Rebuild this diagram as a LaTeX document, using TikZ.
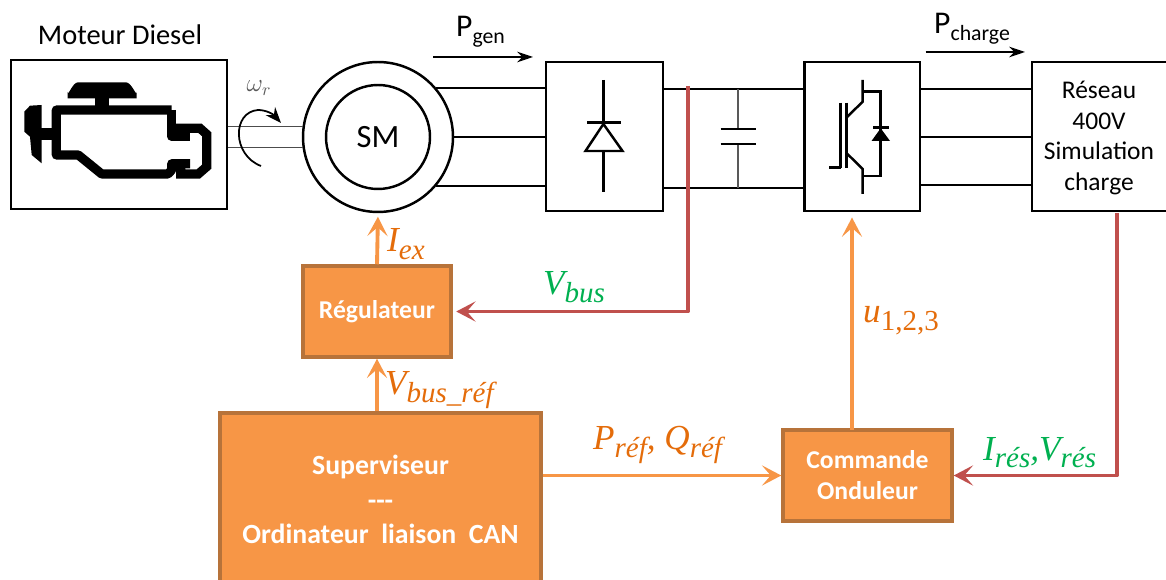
\documentclass[tikz,border=0pt]{standalone}
\usepackage{amsmath}
\usepackage{fontspec}
\setmainfont{Carlito}
\newfontfamily\labelfont{Liberation Serif}
\usetikzlibrary{arrows.meta,calc,shapes.geometric}
\definecolor{superorange}{RGB}{247,150,70}
\definecolor{superborder}{RGB}{183,115,58}
\definecolor{labelorange}{RGB}{228,108,10}
\definecolor{measurered}{RGB}{192,80,77}
\definecolor{measuregreen}{RGB}{0,176,80}
\newcommand{\powerlabel}[1]{P\raisebox{-.4ex}{\fontsize{12.4}{13}\selectfont #1}}
\newcommand{\sublabel}[2]{#1\raisebox{-.2em}{\fontsize{16.5}{18}\selectfont #2}}
\tikzset{
 powerbox/.style={draw=black,line width=1.4pt,fill=white,minimum height=2.98cm},
 ctrlbox/.style={draw=superborder,line width=2pt,fill=superorange,text=white,align=center,font=\fontsize{14.6}{17.6}\selectfont\bfseries},
 busline/.style={black,line width=1.6pt},
 symbline/.style={black,line width=1.4pt},
 ctrlarrow/.style={-{Stealth[length=11pt,width=11.5pt,inset=5pt]},superorange,line width=2.2pt},
 measarrow/.style={-{Stealth[length=11pt,width=11.5pt,inset=5pt]},measurered,line width=2.2pt,line join=round},
 flowarrow/.style={-{Stealth[length=9pt,width=6pt]},black,line width=1pt},
 ctrllabel/.style={font=\labelfont\itshape\fontsize{20}{22}\selectfont,labelorange},
 measlabel/.style={font=\labelfont\itshape\fontsize{20}{22}\selectfont,measuregreen},
}
\begin{document}
\begin{tikzpicture}[x=.02cm,y=-.02cm,line cap=butt]
\useasboundingbox (0,0) rectangle (1166,580);
\clip (0,0) rectangle (1166,580);
\node[font=\fontsize{16.2}{18}\selectfont] (dieseltxt) at (120,35) {Moteur Diesel};
\node[powerbox,minimum width=4.32cm] (engine) at (119,134.5) {};
\fill (67.7,98.3) -- (67.7,92) to[out=-90,in=180] (78,82.3) -- (126,82.3) to[out=0,in=-90] (136.7,92) -- (136.7,98.3) -- cycle;
\fill (95,96) rectangle (109.3,112);
\fill (41.7,105) -- (30,105.7) -- (24.3,111.7) -- (24.3,131.7) -- (30,136.7) -- (31.7,155) -- (41.7,163.3) -- cycle;
\fill (41,127.7) rectangle (56,140);
\draw[line width=5.2pt,line join=round] (171.7,110) -- (56.3,110) -- (56.3,155) -- (78.3,155) -- (101.7,174) -- (168,174) -- (171.7,170) -- (171.7,163.7) -- (190,163.7);
\draw[line width=5.2pt,line join=round] (171.7,110) -- (171.7,136.3) -- (190,136.3);
\draw[line width=5.2pt,line join=miter] (168,128.3) -- (200,128.3) -- (206.7,134.3) -- (206.7,166.7) -- (198.3,174) -- (180.7,174) -- (180.7,163);
\node[circle,draw=black,line width=1.4pt,fill=white,minimum size=3cm] (genouter) at (378,137) {};
\node[circle,draw=black,line width=1.4pt,minimum size=2.08cm,font=\fontsize{18.5}{20}\selectfont] (sm) at (378,137) {SM};
\draw[black!70,line width=1pt] (genouter.172 -| engine.east) -- (genouter.172);
\draw[black!70,line width=1pt] (genouter.188 -| engine.east) -- (genouter.188);
\draw[-{Stealth[length=9pt,width=7pt]},line width=1pt] (261,166) .. controls (232,155) and (232,112) .. (258,110) .. controls (266,110) and (273,114) .. (281,123);
\node[font=\fontsize{14}{15}\selectfont,black!65] (omega) at (259,88) {$\omega_r$};
\node[powerbox,minimum width=2.34cm] (rect) at (604.5,136.5) {};
\draw[symbline] (603.4,80) -- (603.4,125);
\draw[symbline] (603.4,151) -- (603.4,192);
\draw[symbline] (587,122.7) -- (620.5,122.7);
\draw[symbline,line join=miter] (603.4,124) -- (585.5,151) -- (622.5,151) -- cycle;
\foreach \busy in {40,-40}
 \draw[busline] (genouter.\busy) -- (genouter.\busy -| rect.west);
\draw[busline] (genouter.east) -- (genouter.east -| rect.west);
\node[powerbox,minimum width=2.31cm] (inv) at (862,136.5) {};
\draw[symbline] (862.7,80) -- (862.7,101.7) -- (846.7,117.3);
\draw[symbline] (862.7,91.7) -- (880.7,91.7) -- (880.7,176) -- (862.7,176);
\draw[symbline] (846.7,153.3) -- (862.7,169) -- (862.7,194);
\draw[symbline] (840.7,102.7) -- (840.7,168.3);
\draw[symbline] (846.3,102.7) -- (846.3,168.3);
\draw[symbline] (829.3,167.7) -- (840.7,167.7);
\fill (880.7,128.3) -- (871.5,141) -- (890,141) -- cycle;
\draw[symbline] (873,127.3) -- (888.5,127.3);
\node[powerbox,minimum width=2.86cm] (reseau) at (1103.5,136.5) {};
\node[align=center,font=\fontsize{14.5}{17.5}\selectfont] (reseautxt) at (1099,138) {R\'eseau\\400V\\Simulation\\charge};
\draw[busline] (rect.east |- 0,89) -- (inv.west |- 0,89);
\draw[busline] (rect.east |- 0,188) -- (inv.west |- 0,188);
\draw[black!65,line width=.8pt] (738,89) -- (738,129);
\draw[black!65,line width=.8pt] (738,144) -- (738,188);
\draw[black,line width=1.7pt] (720.7,129) -- (756.4,129);
\draw[black,line width=1.7pt] (720.7,144) -- (756.4,144);
\foreach \busy in {89,137,185}
 \draw[busline] (inv.east |- 0,\busy) -- (reseau.west |- 0,\busy);
\node[font=\fontsize{18}{20}\selectfont,anchor=base west] (pgen) at (450,37) {\powerlabel{gen}};
\draw[flowarrow] (433,57) -- (533,57);
\node[font=\fontsize{18}{20}\selectfont,anchor=base west] (pcharge) at (928,34) {\powerlabel{charge}};
\draw[flowarrow] (925.5,52) -- (1025,52);
\node[ctrlbox,minimum width=2.96cm,minimum height=1.82cm] (reg) at (377,311.5) {R\'egulateur};
\node[ctrlbox,minimum width=6.42cm,minimum height=3.46cm,font=\fontsize{15.8}{19.6}\selectfont\bfseries] (sup) at (380.5,499.5) {Superviseur\\-{}-{}-\\Ordinateur\ \ liaison\ \ CAN};
\node[ctrlbox,minimum width=3.38cm,minimum height=1.82cm] (cmd) at (867.5,475.5) {Commande\\Onduleur};
\coordinate (ubase) at (852,430);
\coordinate (vtap) at (688,86);
\coordinate (rtap) at (1117,213);
\draw[ctrlarrow,shorten >=2pt] (reg.north) -- (sm.south |- genouter.south);
\draw[ctrlarrow] (reg.south |- sup.north) -- (reg.south);
\draw[ctrlarrow] (cmd.west -| sup.east) -- (cmd.west);
\draw[ctrlarrow,shorten >=3pt] (ubase) -- (ubase |- inv.south);
\draw[measarrow,shorten >=2pt] (vtap) |- (reg.east);
\draw[measarrow] (rtap) |- (cmd.east);
\node[ctrllabel,anchor=base west] (iex) at (381,252) {\sublabel{I}{ex}};
\node[ctrllabel,anchor=base west] (vbusref) at (379,395) {\sublabel{V}{bus\_r\'ef}};
\node[measlabel,anchor=base west] (vbus) at (537,295) {\sublabel{V}{bus}};
\node[ctrllabel,anchor=base west] (pqref) at (587,450) {\sublabel{P}{r\'ef}, \sublabel{Q}{r\'ef}};
\node[ctrllabel,anchor=base west] (uabc) at (857,323) {\sublabel{u}{\upshape 1,2,3}};
\node[measlabel,anchor=base west] (ivres) at (977,460) {\sublabel{I}{r\'es},\sublabel{V}{r\'es}};
\end{tikzpicture}
\end{document}
